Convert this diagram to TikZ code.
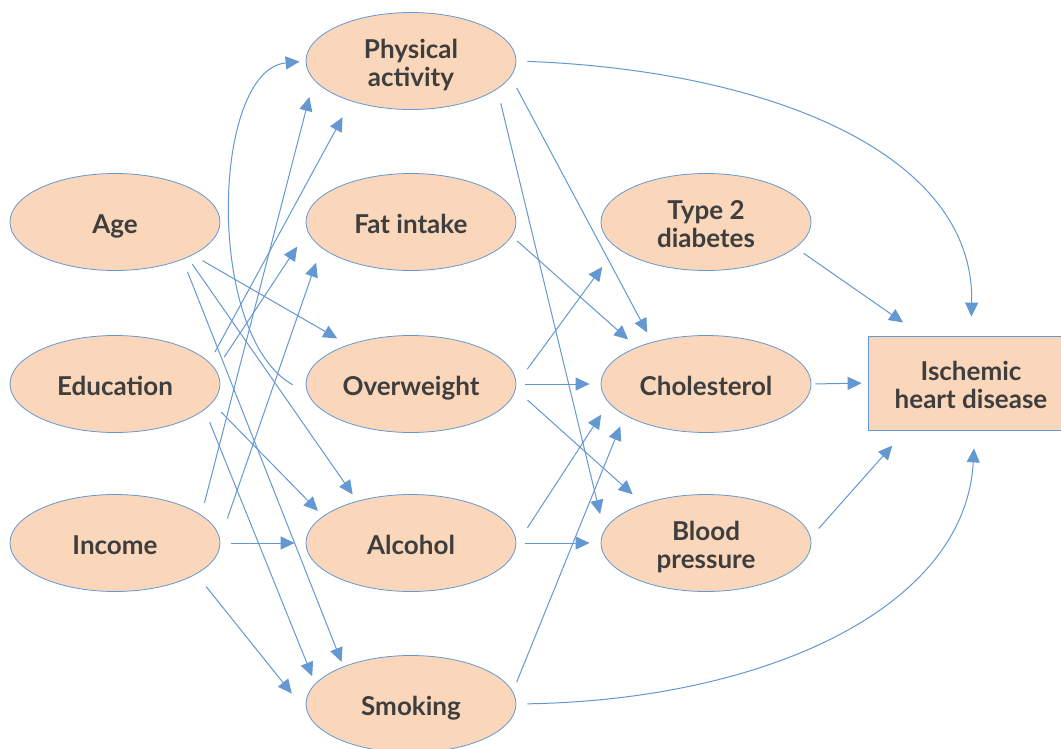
\documentclass[tikz,border=0pt]{standalone}
\usepackage{fontspec}
\setmainfont{Lato}
\usetikzlibrary{arrows.meta,shapes.geometric}
\definecolor{peach}{RGB}{250,215,187}
\definecolor{edge}{RGB}{100,152,210}
\definecolor{ink}{RGB}{62,62,62}
\newcommand{\lwr}[1]{\raisebox{0pt}[23.2pt][0pt]{#1}}
\begin{document}
\begin{tikzpicture}[x=1pt,y=1pt,
  lbl/.style={text=ink, align=center, font=\fontsize{26}{28}\selectfont\bfseries},
  ell/.style={lbl, ellipse, draw=edge, line width=0.8pt, fill=peach, minimum width=210pt, minimum height=97pt, inner sep=0pt},
  box/.style={lbl, rectangle, draw=edge, line width=0.8pt, fill=peach, minimum width=206pt, minimum height=94pt, inner sep=0pt},
  arr/.style={draw=edge, line width=1pt, -{Triangle[length=14pt,width=13pt]}}]
\useasboundingbox (0,0) rectangle (1061,-748);
\fill[white] (0,0) rectangle (1061,-748);
% nodes
\node[ell] (age) at (115,-222) {\lwr{Age}};
\node[ell] (edu) at (115,-384) {\lwr{Education}};
\node[ell] (inc) at (115,-543) {\lwr{Income}};
\node[ell] (pa)  at (411,-61)  {\lwr{Physical}\\\lwr{activity}};
\node[ell] (fat) at (411,-222) {\lwr{Fat intake}};
\node[ell] (ov)  at (411,-384) {\lwr{Overweight}};
\node[ell] (alc) at (411,-543) {\lwr{Alcohol}};
\node[ell] (smk) at (411,-704) {\lwr{Smoking}};
\node[ell] (t2)  at (706,-222) {\lwr{Type 2}\\\lwr{diabetes}};
\node[ell] (cho) at (706,-384) {\lwr{Cholesterol}};
\node[ell] (bp)  at (706,-543) {\lwr{Blood}\\\lwr{pressure}};
\node[box] (ihd) at (971,-383) {\lwr{Ischemic}\\\lwr{heart disease}};
% left column -> middle column
\draw[arr, shorten <=11.3pt, shorten >=12.6pt] (age.-23.7) -- (ov.148.4);
\draw[arr, shorten <=8.3pt, shorten >=7.9pt] (age.-26) -- (alc.142.7);
\draw[arr, shorten <=13.2pt, shorten >=5pt] (age.-29.7) -- (smk.151.7);
\draw[arr, shorten <=11.4pt, shorten >=18.2pt] (edu.13.2) -- (pa.214);
\draw[arr, shorten <=15.1pt, shorten >=18.6pt] (edu.8.9) -- (fat.185.9);
\draw[arr, shorten <=13pt, shorten >=7.3pt] (edu.-11.6) -- (alc.163.8);
\draw[arr, shorten <=13.4pt, shorten >=8pt] (edu.-16.8) -- (smk.168.5);
\draw[arr, shorten <=12.5pt, shorten >=17.6pt] (inc.18) -- (pa.191.1);
\draw[arr, shorten <=22.1pt, shorten >=16pt] (inc.2.4) -- (fat.196.3);
\draw[arr, shorten <=11pt, shorten >=11pt] (inc.east) -- (alc.west);
\draw[arr, shorten <=16pt, shorten >=25pt] (inc.-21.2) -- (smk.185);
\draw[arr, shorten <=17pt, shorten >=6pt] (ov.185) .. controls +(-103,58) and +(-94,-9) .. (pa.west);
% middle column -> right
\draw[arr, shorten <=11pt, shorten >=19pt] (pa.east) .. controls +(244,-9) and +(4,186) .. (ihd.north);
\draw[arr, shorten <=12.5pt, shorten >=10.7pt] (pa.-9.1) -- (cho.142.4);
\draw[arr, shorten <=14.6pt, shorten >=17pt] (pa.-18.8) -- (bp.173.6);
\draw[arr, shorten <=7.1pt, shorten >=11.5pt] (fat.-8.8) -- (cho.152.3);
\draw[arr, shorten <=18.3pt, shorten >=23.8pt] (ov.east) -- (t2.196.3);
\draw[arr, shorten <=9pt, shorten >=11pt] (ov.east) -- (cho.west);
\draw[arr, shorten <=15.7pt, shorten >=14.1pt] (ov.-3) -- (bp.148.8);
\draw[arr, shorten <=20.1pt, shorten >=14pt] (alc.-1.5) -- (cho.191.3);
\draw[arr, shorten <=9pt, shorten >=11pt] (alc.east) -- (bp.west);
\draw[arr, shorten <=10pt, shorten >=12pt] (smk.7.2) -- (cho.201.7);
\draw[arr, shorten <=11pt, shorten >=18pt] (smk.east) .. controls +(244,4) and +(-10,-180) .. ([xshift=4pt]ihd.south);
% right column -> outcome
\draw[arr, shorten <=9.7pt, shorten >=22.9pt] (t2.-16.8) -- (ihd.136.9);
\draw[arr, shorten <=4pt, shorten >=6pt] (cho.east) -- (ihd.west);
\draw[arr, shorten <=12pt, shorten >=20.3pt] (bp.3.9) -- (ihd.216.2);
\end{tikzpicture}
\end{document}
